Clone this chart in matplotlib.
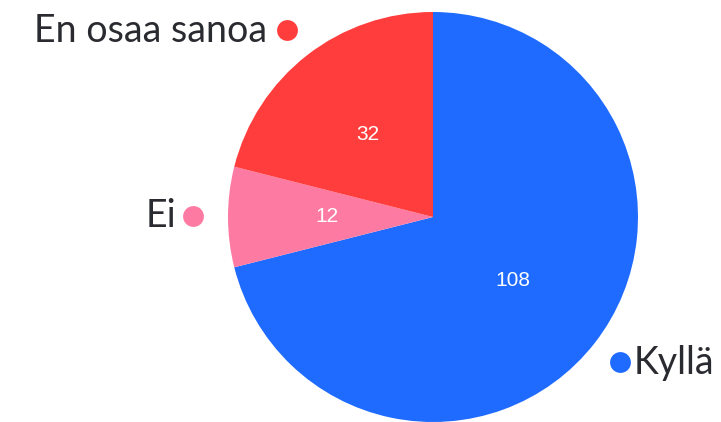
import matplotlib.pyplot as plt

# data
labels = ["Kyllä", "Ei", "En osaa sanoa"]
values = [108, 12, 32]
colors = ["#1f6bff", "#fd7aa3", "#ff3d3d"]

W, H = 721, 422
fig = plt.figure(figsize=(W / 100, H / 100), dpi=100)
ax = fig.add_axes([0, 0, 1, 1])

cx, cy, r = 433, H - 217, 205
wedges, texts = ax.pie(values, colors=colors, startangle=90, counterclock=False,
                       center=(cx, cy), radius=r, frame=True,
                       wedgeprops=dict(linewidth=0))
ax.set_xlim(0, W)
ax.set_ylim(0, H)
ax.set_aspect("equal")
ax.axis("off")

# inner value labels
inner_pos = [(513, 280), (327, 217), (368, 135)]
for (x, y), v in zip(inner_pos, values):
    ax.text(x, H - y, str(v), color="white", fontsize=15, family="Liberation Sans",
            ha="center", va="center")

# outer labels with dots
txt_col = "#2a2b30"
dot_pos = [(620, 362), (193, 216), (287, 30)]
for (x, y), c in zip(dot_pos, colors):
    ax.plot(x, H - y, "o", color=c, markersize=15, markeredgewidth=0)

font = dict(fontsize=27, family="Lato", color=txt_col, va="center")
ax.text(634, H - 363, labels[0], ha="left", **font)
ax.text(176, H - 216, labels[1], ha="right", **font)
ax.text(267, H - 31, labels[2], ha="right", **font)

fig.savefig("out.png", dpi=100)
